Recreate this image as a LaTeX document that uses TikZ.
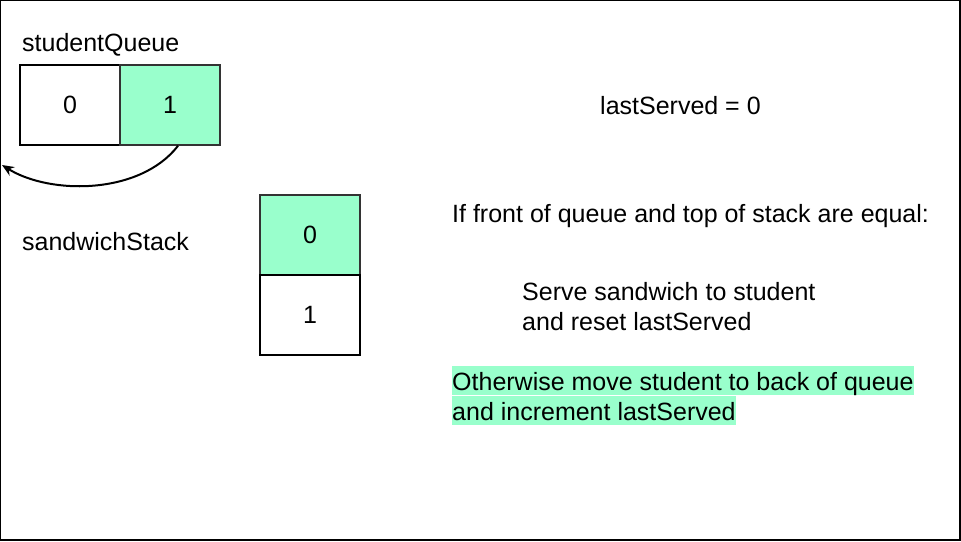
\documentclass[tikz,border=0pt]{standalone}
\usepackage{fontspec}
\setmainfont{Liberation Sans}
\usetikzlibrary{arrows.meta}
\definecolor{mint}{HTML}{99FFCC}
\definecolor{edge}{HTML}{333333}
\begin{document}
\begin{tikzpicture}[x=1pt,y=-1pt,
  cell/.style={draw=black, line width=1.6pt, minimum width=100pt, minimum height=80pt, inner sep=0pt, font=\fontsize{25}{30}\selectfont},
  hot/.style={cell, fill=mint, draw=edge},
  txt/.style={anchor=base west, inner sep=0pt, font=\fontsize{25}{30}\selectfont},
  hl/.style={txt, fill=mint, text height=24pt, text depth=5pt}]
\useasboundingbox (0,0) rectangle (961,541);
\draw[line width=1.3pt] (0.65,0.65) rectangle (960,540);
% labels
\node[txt] (qlabel) at (22,51) {studentQueue};
\node[txt] (slabel) at (22,250) {sandwichStack};
% queue
\node[cell] (q0) at (70,105) {0};
\node[hot] (q1) at (170,105) {1};
% stack
\node[hot] (s0) at (310,235) {0};
\node[cell] (s1) at (310,315) {1};
% arrow
\coordinate (back) at (2,165);
\draw[-{Stealth[length=12pt,width=10pt,inset=4pt]}, line width=2pt] ([xshift=8pt]q1.south) .. controls (140,195) and (50,195) .. (back);
% text
\node[txt] (last) at (600,114) {lastServed = 0};
\node[txt] (cond) at (452,222) {If front of queue and top of stack are equal:};
\node[txt] (serve1) at (522,300) {Serve sandwich to student};
\node[txt] (serve2) at (522,330) {and reset lastServed};
\node[hl] (other1) at (452,390) {Otherwise move student to back of queue};
\node[hl] (other2) at (452,420) {and increment lastServed};
\end{tikzpicture}
\end{document}
